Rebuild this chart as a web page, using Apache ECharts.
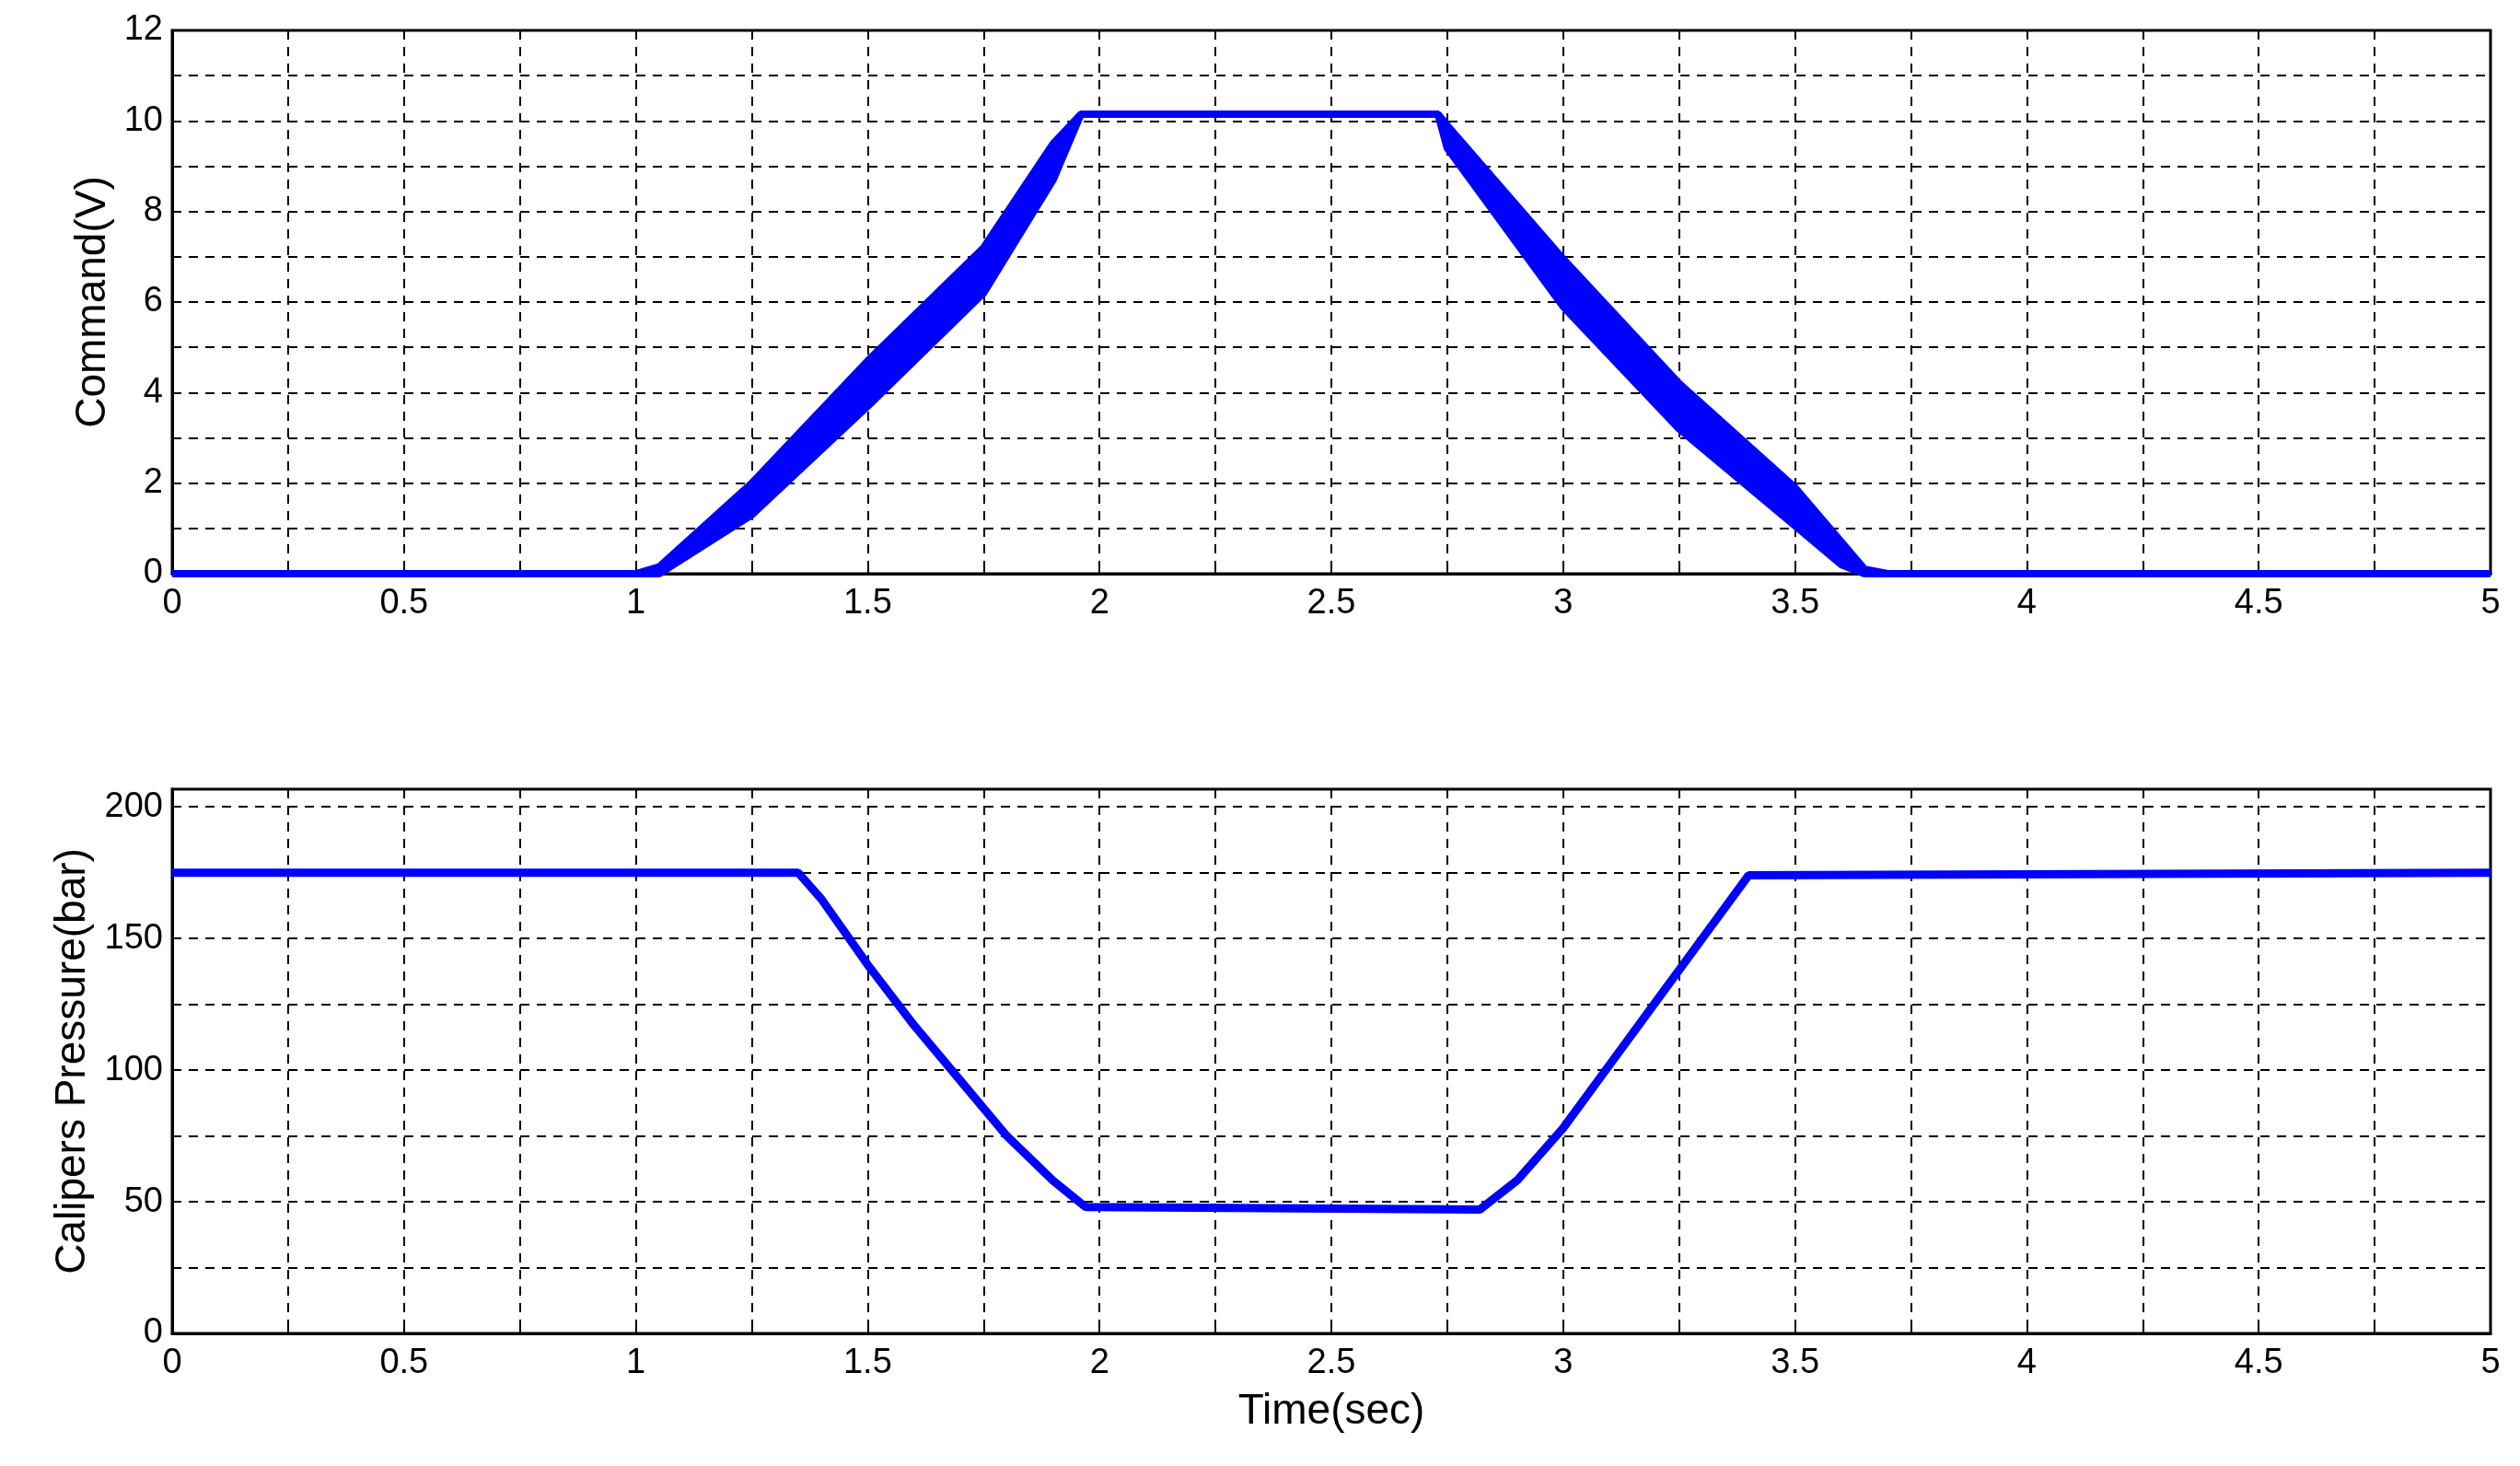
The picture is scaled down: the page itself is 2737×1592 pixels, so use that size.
<!DOCTYPE html>
<html>
<head>
<meta charset="UTF-8">
<script src="https://cdn.jsdelivr.net/npm/echarts@6/dist/echarts.min.js"></script>
<style>html,body{margin:0;background:#fff}#main{width:2737px;height:1592px}</style>
</head>
<body>
<div id="main"></div>
<script>
// command band (lower / upper edges of the noisy signal)
var cmdTime  = [0, 1.0, 1.05, 1.25, 1.5, 1.75, 1.9, 1.96, 2.73, 2.75, 3.0, 3.25, 3.5, 3.6, 3.65, 3.7, 5];
var cmdLower = [0, 0, 0, 1.3, 3.7, 6.2, 8.7, 10.15, 10.15, 9.4, 5.9, 3.2, 1.06, 0.2, 0, 0, 0];
var cmdUpper = [0, 0, 0.15, 2.0, 4.7, 7.2, 9.5, 10.15, 10.15, 9.9, 6.95, 4.2, 1.9, 0.7, 0.1, 0, 0];
var presTime = [0, 1.35, 1.4, 1.5, 1.6, 1.7, 1.8, 1.9, 1.97, 2.82, 2.9, 3.0, 3.1, 3.2, 3.3, 3.4, 5];
var presVal  = [175, 175, 165, 140, 117, 96, 75, 58, 48, 47, 58, 78, 102, 126, 150, 174, 175];

function pairs(t, v) { return t.map(function (x, i) { return [x, v[i]]; }); }

var font = 'Liberation Sans';
var blue = '#0000ff';
function xAxis(idx, name) {
  return {
    type: 'value', gridIndex: idx, min: 0, max: 5, interval: 0.25,
    name: name, nameLocation: 'middle', nameGap: 62,
    nameTextStyle: {color: '#000', fontSize: 46, fontFamily: font},
    axisLine: {lineStyle: {color: '#000', width: 3}},
    axisTick: {inside: true, length: 10, lineStyle: {color: '#000', width: 2}},
    axisLabel: {color: '#000', fontSize: 38, fontFamily: font, margin: 14,
      formatter: function (v) { return Math.abs(v * 2 - Math.round(v * 2)) < 1e-6 ? String(v) : ''; }},
    splitLine: {lineStyle: {color: '#000', type: [10, 8], width: 2}}
  };
}
function yAxis(idx, name, max, step, labStep) {
  return {
    type: 'value', gridIndex: idx, min: 0, max: max, interval: step,
    name: name, nameLocation: 'middle', nameGap: labStep > 10 ? 82 : 62,
    nameTextStyle: {color: '#000', fontSize: 46, fontFamily: font},
    axisLine: {show: true, lineStyle: {color: '#000', width: 3}},
    axisTick: {inside: true, length: 10, lineStyle: {color: '#000', width: 2}},
    axisLabel: {color: '#000', fontSize: 38, fontFamily: font, margin: 10,
      formatter: function (v) { return Math.abs(v / labStep - Math.round(v / labStep)) < 1e-6 && v <= max ? String(v) : ''; }},
    splitLine: {lineStyle: {color: '#000', type: [10, 8], width: 2}}
  };
}

var chart = echarts.init(document.getElementById('main'));
chart.setOption({
  backgroundColor: '#fff',
  animation: false,
  grid: [
    {left: 187, right: 32, top: 33, height: 590, show: true, borderColor: '#000', borderWidth: 3},
    {left: 187, right: 32, top: 857, height: 591, show: true, borderColor: '#000', borderWidth: 3}
  ],
  xAxis: [xAxis(0, ''), xAxis(1, 'Time(sec)')],
  yAxis: [yAxis(0, 'Command(V)', 12, 1, 2), yAxis(1, 'Calipers Pressure(bar)', 206.7, 25, 50)],
  series: [
    {type: 'custom', xAxisIndex: 0, yAxisIndex: 0, data: [0],
      renderItem: function (params, api) {
        var pts = [];
        for (var i = 0; i < cmdTime.length; i++) pts.push(api.coord([cmdTime[i], cmdUpper[i]]));
        for (var j = cmdTime.length - 1; j >= 0; j--) pts.push(api.coord([cmdTime[j], cmdLower[j]]));
        return {type: 'polygon', shape: {points: pts}, style: {fill: blue}};
      }},
    {type: 'line', xAxisIndex: 0, yAxisIndex: 0, symbol: 'none',
      data: pairs(cmdTime, cmdLower), lineStyle: {color: blue, width: 8}},
    {type: 'line', xAxisIndex: 0, yAxisIndex: 0, symbol: 'none',
      data: pairs(cmdTime, cmdUpper), lineStyle: {color: blue, width: 8}},
    {type: 'line', xAxisIndex: 1, yAxisIndex: 1, symbol: 'none',
      data: pairs(presTime, presVal), lineStyle: {color: blue, width: 9}}
  ]
});
</script>
</body>
</html>
